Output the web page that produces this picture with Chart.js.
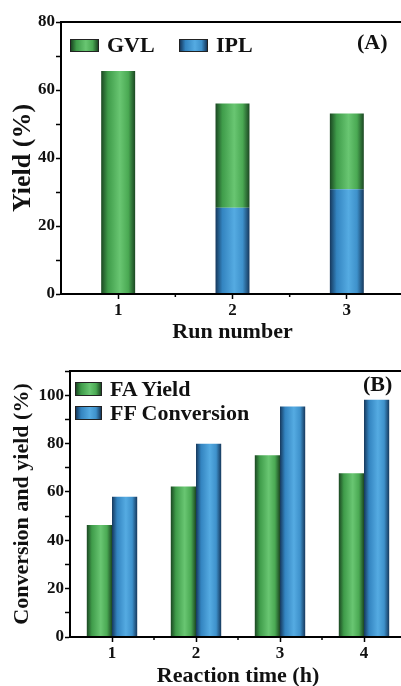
<!DOCTYPE html>
<html>
<head>
<meta charset="utf-8">
<script src="https://cdn.jsdelivr.net/npm/chart.js@4.4.0/dist/chart.umd.min.js"></script>
<style>
body { margin: 0; width: 401px; height: 686px; overflow: hidden; background: #fff; position: relative; font-family: "Liberation Serif", serif; font-weight: bold; }
.box { position: absolute; left: 0; width: 410px; height: 360px; }
.lg { position: absolute; display: flex; align-items: center; font-size: 22px; line-height: 22px; height: 22px; color: #111; white-space: nowrap; }
.sw { box-sizing: border-box; border: 1px solid #222; margin-right: 8px; }
.tag { position: absolute; font-size: 22px; line-height: 22px; color: #111; }
</style>
</head>
<body>
<div class="box" style="top:0"><canvas id="chartA" width="410" height="360"></canvas></div>
<div class="box" style="top:340px"><canvas id="chartB" width="410" height="360"></canvas></div>
<div class="tag" style="left:357px;top:31px">(A)</div>
<div class="tag" style="left:363px;top:373px">(B)</div>
<div id="legends"></div>
<script>
// panel A - reuse runs
const runs = ['1', '2', '3'];
const gvlYield = [65.6, 30.6, 22.3];   // part on top of IPL
const iplYield = [0, 25.4, 30.8];
const yTicksA = [0, 20, 40, 60, 80];

// panel B - reaction time
const hours = ['1', '2', '3', '4'];
const faYield = [46.3, 62.2, 75.2, 67.7];
const ffConversion = [58.0, 79.9, 95.3, 98.1];
const yTicksB = [0, 20, 40, 60, 80, 100];

const GREEN = ['#1b4722', '#3f9c4a', '#69c672', '#4aa953', '#1b4722'];
const BLUE = ['#16385c', '#3384c0', '#55abe2', '#3e91cb', '#16385c'];
const STOPS = [0, 0.2, 0.55, 0.8, 1];

function cssGrad(cols) {
  return 'linear-gradient(to right,' + cols.map((c, i) => c + ' ' + STOPS[i] * 100 + '%').join(',') + ')';
}

// cylinder look for every bar
const shade = {
  id: 'shade',
  beforeDatasetsDraw(chart) {
    const ctx = chart.ctx;
    chart.data.datasets.forEach((ds, di) => {
      chart.getDatasetMeta(di).data.forEach(bar => {
        const x0 = bar.x - bar.width / 2;
        const g = ctx.createLinearGradient(x0, 0, x0 + bar.width, 0);
        ds.cols.forEach((c, i) => g.addColorStop(STOPS[i], c));
        bar.options = Object.assign({}, bar.options, { backgroundColor: g });
      });
    });
  }
};

// box around plot + small ticks between categories
const frame = {
  id: 'frame',
  afterDraw(chart) {
    const { ctx, chartArea: a, scales: { x } } = chart;
    ctx.save();
    ctx.strokeStyle = '#000';
    ctx.lineWidth = 2;
    ctx.strokeRect(a.left, a.top, a.right - a.left, a.bottom - a.top);
    ctx.lineWidth = 1.5;
    const n = chart.data.labels.length;
    for (let i = 0; i < n - 1; i++) {
      const px = (x.getPixelForValue(i) + x.getPixelForValue(i + 1)) / 2;
      ctx.beginPath();
      ctx.moveTo(px, a.bottom);
      ctx.lineTo(px, a.bottom + 3);
      ctx.stroke();
    }
    ctx.restore();
  }
};

const tickFont = { family: 'Liberation Serif', weight: 'bold', size: 17 };
const titleFont = { family: 'Liberation Serif', weight: 'bold', size: 22 };

function makeChart(id, cfg) {
  return new Chart(document.getElementById(id), {
    type: 'bar',
    data: { labels: cfg.labels, datasets: cfg.datasets },
    plugins: [shade, frame],
    options: {
      responsive: false,
      animation: false,
      layout: { padding: cfg.padding },
      plugins: { legend: { display: false }, tooltip: { enabled: false } },
      datasets: { bar: { categoryPercentage: cfg.catPct, barPercentage: cfg.barPct, borderWidth: 0 } },
      scales: {
        x: {
          stacked: cfg.stacked,
          afterFit: s => { s.height = cfg.xHeight; },
          grid: { offset: false, drawOnChartArea: false, tickLength: 5, tickWidth: 1.5, color: '#000' },
          border: { display: true, color: '#000', width: 2 },
          ticks: { color: '#111', font: tickFont, padding: 1 },
          title: { display: true, text: cfg.xTitle, color: '#111', font: titleFont, padding: { bottom: cfg.xTitlePad } }
        },
        y: {
          stacked: cfg.stacked,
          min: 0,
          max: cfg.yMax,
          afterFit: s => { s.width = cfg.yWidth; },
          grid: { drawOnChartArea: false, tickLength: 5, tickWidth: 1.5, color: '#000' },
          border: { display: true, color: '#000', width: 2 },
          ticks: {
            stepSize: 10,
            color: '#111',
            font: tickFont,
            padding: 1,
            callback: v => cfg.yTicks.includes(v) ? v : ''
          },
          title: { display: true, text: cfg.yTitle, color: '#111', font: cfg.yTitleFont, padding: { top: cfg.yTitlePad } }
        }
      }
    }
  });
}

makeChart('chartA', {
  labels: runs,
  datasets: [
    { label: 'IPL', data: iplYield, cols: BLUE },
    { label: 'GVL', data: gvlYield, cols: GREEN }
  ],
  stacked: true,
  catPct: 1,
  barPct: 0.297,
  padding: { top: 22, right: 6, left: 0, bottom: 0 },
  xHeight: 66,
  yWidth: 61,
  yMax: 80,
  yTicks: yTicksA,
  xTitle: 'Run number',
  xTitlePad: 14,
  yTitle: 'Yield (%)',
  yTitlePad: 8,
  yTitleFont: { family: 'Liberation Serif', weight: 'bold', size: 26 }
});

makeChart('chartB', {
  labels: hours,
  datasets: [
    { label: 'FA Yield', data: faYield, cols: GREEN },
    { label: 'FF Conversion', data: ffConversion, cols: BLUE }
  ],
  stacked: false,
  catPct: 0.6,
  barPct: 1,
  padding: { top: 31, right: 4, left: 0, bottom: 0 },
  xHeight: 63,
  yWidth: 70,
  yMax: 110,
  yTicks: yTicksB,
  xTitle: 'Reaction time (h)',
  xTitlePad: 10,
  yTitle: 'Conversion and yield (%)',
  yTitlePad: 9,
  yTitleFont: titleFont
});

// legends sit inside the plot area
const legendItems = [
  { text: 'GVL', cols: GREEN, left: 70, top: 34, w: 29, h: 13 },
  { text: 'IPL', cols: BLUE, left: 179, top: 34, w: 29, h: 13 },
  { text: 'FA Yield', cols: GREEN, left: 75, top: 378, w: 27, h: 14 },
  { text: 'FF Conversion', cols: BLUE, left: 75, top: 402, w: 27, h: 14 }
];
const lgHost = document.getElementById('legends');
legendItems.forEach(it => {
  const row = document.createElement('div');
  row.className = 'lg';
  row.style.left = it.left + 'px';
  row.style.top = it.top + 'px';
  const sw = document.createElement('span');
  sw.className = 'sw';
  sw.style.width = it.w + 'px';
  sw.style.height = it.h + 'px';
  sw.style.background = cssGrad(it.cols);
  row.appendChild(sw);
  row.appendChild(document.createTextNode(it.text));
  lgHost.appendChild(row);
});
</script>
</body>
</html>
